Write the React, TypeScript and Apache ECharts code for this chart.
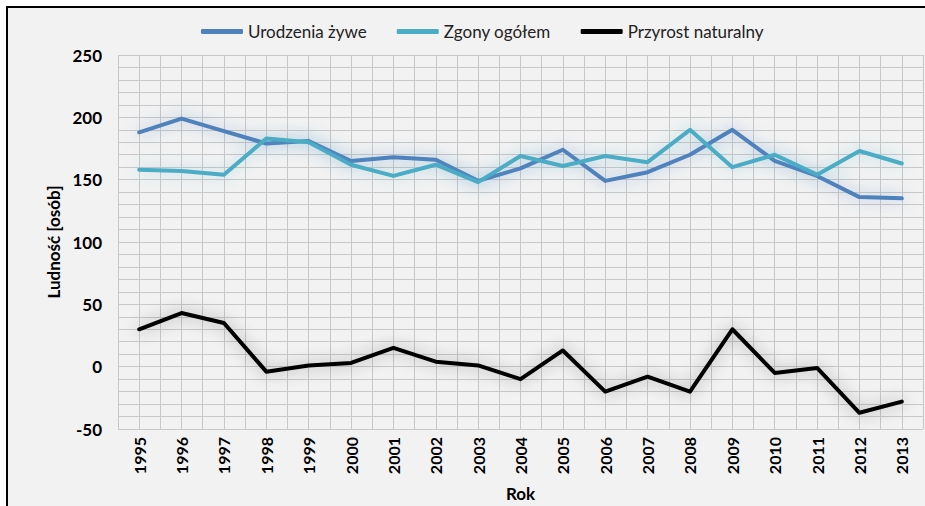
import React, { useEffect, useRef } from "react";
import * as echarts from "echarts";

const years = ["1995","1996","1997","1998","1999","2000","2001","2002","2003","2004","2005","2006","2007","2008","2009","2010","2011","2012","2013"];
const urodzenia = [188, 199, 189, 179, 181, 165, 168, 166, 149, 159, 174, 149, 156, 170, 190, 165, 153, 136, 135];
const zgony = [158, 157, 154, 183, 180, 162, 153, 162, 148, 169, 161, 169, 164, 190, 160, 170, 154, 173, 163];
const przyrost = [30, 43, 35, -4, 1, 3, 15, 4, 1, -10, 13, -20, -8, -20, 30, -5, -1, -37, -28];
const yTicks = { min: -50, max: 250, step: 50 };

const FONT = "Lato, 'Open Sans', sans-serif";

export default function App() {
  const ref = useRef<HTMLDivElement>(null);
  useEffect(() => {
    if (!ref.current) return;
    const chart = echarts.init(ref.current, undefined, { renderer: "svg" });
    const gridColor = "#c8c8c8";
    const mk = (name: string, data: number[], color: string, glow: string) => ({
      name,
      type: "line",
      data,
      xAxisIndex: 0,
      showSymbol: false,
      symbol: "none",
      lineStyle: { width: 4, color, shadowBlur: 16, shadowColor: glow, shadowOffsetX: 0, shadowOffsetY: 0, cap: "round", join: "round" },
      itemStyle: { color },
      z: 3,
    });
    chart.setOption({
      animation: false,
      backgroundColor: "#ffffff",
      textStyle: { fontFamily: FONT },
      graphic: [
        {
          type: "rect",
          z: -100,
          silent: true,
          shape: { x: 7, y: 7, width: 960, height: 540 },
          style: { fill: "#f2f2f2", stroke: "#000", lineWidth: 2 },
        },
      ],
      legend: {
        top: 18,
        left: 196,
        itemGap: 30,
        itemWidth: 42,
        itemHeight: 5,
        icon: "roundRect",
        textStyle: { fontSize: 17, color: "#222", fontFamily: FONT },
        data: ["Urodzenia żywe", "Zgony ogółem", "Przyrost naturalny"],
      },
      grid: { left: 118, right: 2, top: 55, bottom: 77, containLabel: false, outerBoundsMode: "none" },
      xAxis: [
        {
          type: "category",
          data: years,
          boundaryGap: true,
          axisLine: { show: false },
          axisTick: { show: false },
          splitLine: { show: false },
          axisLabel: { rotate: 90, fontWeight: "bold", fontSize: 16, color: "#000", margin: 8, fontFamily: FONT },
          name: "Rok",
          nameLocation: "middle",
          nameGap: 56,
          nameTextStyle: { fontWeight: "bold", fontSize: 17, color: "#000", fontFamily: FONT },
        },
        {
          type: "value",
          position: "bottom",
          min: 0,
          max: years.length * 2,
          interval: 1,
          axisLine: { show: false },
          axisTick: { show: false },
          axisLabel: { show: false },
          splitLine: { show: true, lineStyle: { color: gridColor, width: 1 } },
        },
      ],
      yAxis: {
        type: "value",
        min: yTicks.min,
        max: yTicks.max,
        interval: yTicks.step,
        axisLine: { show: false },
        axisTick: { show: false },
        axisLabel: { fontWeight: "bold", fontSize: 17, color: "#000", margin: 16, fontFamily: FONT },
        splitLine: { show: true, lineStyle: { color: gridColor, width: 1 } },
        minorTick: { show: false, splitNumber: 5 },
        minorSplitLine: { show: true, lineStyle: { color: gridColor, width: 1 } },
        name: "Ludność [osób]",
        nameLocation: "middle",
        nameGap: 53,
        nameRotate: 90,
        nameTextStyle: { fontWeight: "bold", fontSize: 17, color: "#000", fontFamily: FONT },
      },
      series: [
        mk("Urodzenia żywe", urodzenia, "#4f81bd", "rgba(79,129,189,0.55)"),
        mk("Zgony ogółem", zgony, "#4bacc6", "rgba(75,172,198,0.45)"),
        mk("Przyrost naturalny", przyrost, "#000000", "rgba(0,0,0,0.4)"),
      ],
    });
    return () => chart.dispose();
  }, []);
  return <div ref={ref} style={{ position: "fixed", left: 0, top: 0, width: 925, height: 506 }} />;
}
